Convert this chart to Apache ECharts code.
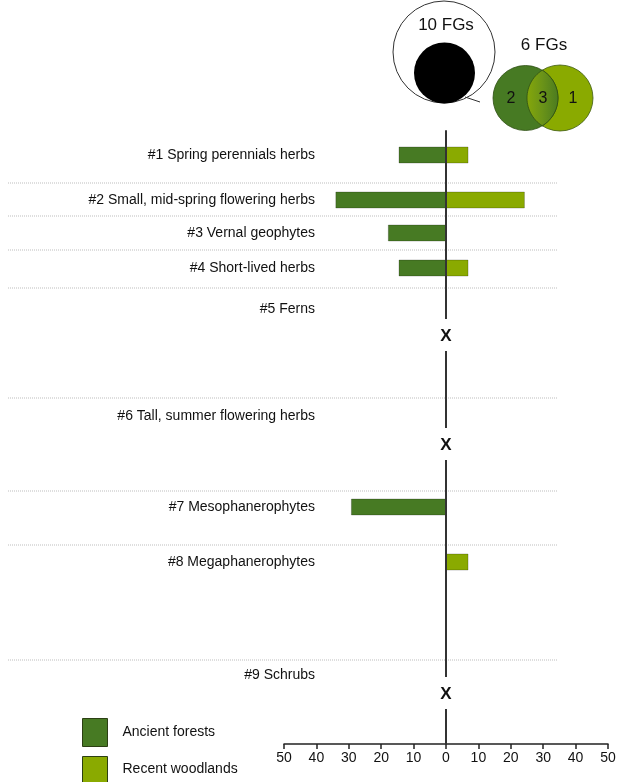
<!DOCTYPE html>
<html>
<head>
<meta charset="utf-8">
<script src="https://cdn.jsdelivr.net/npm/echarts@6/dist/echarts.min.js"></script>
<style>
html,body{margin:0;padding:0;background:#fff;}
#chart{width:620px;height:782px;}
</style>
</head>
<body>
<div id="chart"></div>
<script>
// ---------- DATA ----------
const categories = [
  '#1 Spring perennials herbs',
  '#2 Small, mid-spring flowering herbs',
  '#3 Vernal geophytes',
  '#4 Short-lived herbs',
  '#5 Ferns',
  '#6 Tall, summer flowering herbs',
  '#7 Mesophanerophytes',
  '#8 Megaphanerophytes',
  '#9 Schrubs'
];
const ancientForests   = [14.5, 34, 17.8, 14.5, null, null, 29.2, 0, null];
const recentWoodlands  = [6.8, 24.2, 0, 6.8, null, null, 0, 6.8, null];
const absentGroups     = [false, false, false, false, true, true, false, false, true];
const xTickValues      = [-50, -40, -30, -20, -10, 0, 10, 20, 30, 40, 50];
const seriesNames      = ['Ancient forests', 'Recent woodlands'];
const fgTotal          = '10 FGs';
const fgSubset         = '6 FGs';
const vennCounts       = [2, 3, 1]; // ancient only, shared, recent only

// ---------- LAYOUT (positions along the vertical row axis, not data) ----------
const rowSlot   = [24, 69, 102, 137, 178, 285, 376, 431, 544];
const markSlot  = [null, null, null, null, 204, 313, null, null, 562];
const sepSlot   = [52, 85, 119, 157, 267, 360, 414, 529];

const DARK = '#477a23';
const LIGHT = '#8aaa00';
const FONT = '"Liberation Sans", Arial, sans-serif';

const chart = echarts.init(document.getElementById('chart'));

function barRender(params, api) {
  const v = api.value(0);
  if (!v) return null;
  const y = api.value(1);
  const p0 = api.coord([0, y]);
  const p1 = api.coord([v, y]);
  const h = 16;
  return {
    type: 'rect',
    shape: { x: Math.min(p0[0], p1[0]), y: p0[1] - h / 2, width: Math.abs(p1[0] - p0[0]), height: h },
    style: { fill: api.visual('color'), stroke: 'rgba(0,0,0,0.22)', lineWidth: 1 }
  };
}

// Venn lens (decorative)
const C1 = { x: 525.5, y: 98, r: 32.5 }, C2 = { x: 560, y: 98, r: 33 };
function lensPoints() {
  const d = C2.x - C1.x;
  const a = (d * d + C1.r * C1.r - C2.r * C2.r) / (2 * d);
  const h = Math.sqrt(C1.r * C1.r - a * a);
  const pts = [];
  const t2 = Math.atan2(-h, C1.x + a - C2.x);
  const b2 = Math.atan2(h, C1.x + a - C2.x);
  let s = t2 < 0 ? t2 + 2 * Math.PI : t2;
  for (let k = 0; k <= 30; k++) {
    const ang = s + (b2 - s) * k / 30;
    pts.push([C2.x + C2.r * Math.cos(ang), C2.y + C2.r * Math.sin(ang)]);
  }
  const b1 = Math.atan2(h, a), t1 = Math.atan2(-h, a);
  for (let k = 0; k <= 30; k++) {
    const ang = b1 + (t1 - b1) * k / 30;
    pts.push([C1.x + C1.r * Math.cos(ang), C1.y + C1.r * Math.sin(ang)]);
  }
  return pts;
}

const ancientData = ancientForests.map((v, i) => [v == null ? 0 : -v, rowSlot[i]]);
const recentData = recentWoodlands.map((v, i) => [v == null ? 0 : v, rowSlot[i]]);
const labelData = categories.map((c, i) => [0, rowSlot[i], i]);
const markData = absentGroups.map((a, i) => a ? [0, markSlot[i]] : null).filter(d => d);
const sepData = sepSlot.map(s => [0, s]);

const legendBase = {
  orient: 'vertical', left: 82, padding: 0, itemWidth: 25, icon: 'rect',
  itemStyle: { borderColor: '#2c3f14', borderWidth: 1 },
  textStyle: { fontSize: 14, color: '#111', fontFamily: FONT, padding: [0, 0, 0, 10] },
  selectedMode: false
};

const option = {
  animation: false,
  backgroundColor: '#fff',
  textStyle: { fontFamily: FONT },
  grid: { left: 284, right: 12, top: 131, bottom: 38, containLabel: false },
  xAxis: {
    type: 'value', min: -50, max: 50, interval: 10,
    axisLine: { show: true, onZero: false, lineStyle: { color: '#222', width: 1.5 } },
    axisTick: { show: true, length: 5, lineStyle: { color: '#222', width: 1.5 } },
    axisLabel: { color: '#111', fontSize: 14, margin: 7, fontFamily: FONT, formatter: v => Math.abs(v) },
    splitLine: { show: false }
  },
  yAxis: {
    type: 'value', min: 0, max: 613, inverse: true, z: 3,
    axisLine: { show: true, onZero: true, lineStyle: { color: '#333', width: 2 } },
    axisTick: { show: false }, axisLabel: { show: false }, splitLine: { show: false }
  },
  legend: [
    Object.assign({}, legendBase, { data: [seriesNames[0]], top: 718, itemHeight: 28 }),
    Object.assign({}, legendBase, { data: [seriesNames[1]], top: 756, itemHeight: 26 })
  ],
  series: [
    {
      type: 'custom', name: 'separators', z: 1, silent: true,
      renderItem: (params, api) => {
        const p = api.coord([0, api.value(1)]);
        return { type: 'line', shape: { x1: 8, y1: p[1], x2: 558, y2: p[1] },
          style: { stroke: '#bdbdbd', lineWidth: 1, lineDash: [1, 1] } };
      },
      data: sepData, clip: false
    },
    {
      type: 'custom', name: seriesNames[0], z: 2, color: DARK, itemStyle: { color: DARK },
      renderItem: barRender, data: ancientData, clip: false
    },
    {
      type: 'custom', name: seriesNames[1], z: 2, color: LIGHT, itemStyle: { color: LIGHT },
      renderItem: barRender, data: recentData, clip: false
    },
    {
      type: 'custom', name: 'labels', z: 2, silent: true,
      renderItem: (params, api) => {
        const p = api.coord([0, api.value(1)]);
        return { type: 'text', style: { x: 315, y: p[1], text: categories[api.value(2)],
          align: 'right', verticalAlign: 'middle', fontSize: 14, fill: '#111', fontFamily: FONT } };
      },
      data: labelData, clip: false
    },
    {
      type: 'custom', name: 'absent', z: 5, silent: true,
      renderItem: (params, api) => {
        const p = api.coord([0, api.value(1)]);
        return { type: 'group', children: [
          { type: 'rect', shape: { x: p[0] - 15, y: p[1] - 16, width: 30, height: 32 }, style: { fill: '#fff' } },
          { type: 'text', style: { x: p[0], y: p[1] + 1, text: 'X', align: 'center', verticalAlign: 'middle',
            fontSize: 17, fontWeight: 'bold', fill: '#111', fontFamily: FONT } }
        ] };
      },
      data: markData, clip: false
    }
  ],
  graphic: [
    { type: 'circle', shape: { cx: 444, cy: 52, r: 51 }, style: { fill: '#fff', stroke: '#333', lineWidth: 1 } },
    { type: 'line', shape: { x1: 465, y1: 97, x2: 480, y2: 102 }, style: { stroke: '#333', lineWidth: 1 } },
    { type: 'circle', shape: { cx: 444.5, cy: 73, r: 30.5 }, style: { fill: '#000' } },
    { type: 'text', style: { x: 446, y: 25, text: fgTotal, align: 'center', verticalAlign: 'middle', fontSize: 17, fill: '#111', fontFamily: FONT } },
    { type: 'text', style: { x: 544, y: 45, text: fgSubset, align: 'center', verticalAlign: 'middle', fontSize: 17, fill: '#111', fontFamily: FONT } },
    { type: 'circle', shape: { cx: C2.x, cy: C2.y, r: C2.r }, style: { fill: LIGHT, stroke: '#3d5a12', lineWidth: 0.8 } },
    { type: 'circle', shape: { cx: C1.x, cy: C1.y, r: C1.r }, style: { fill: DARK, stroke: '#2f4f14', lineWidth: 0.8 } },
    { type: 'polygon', shape: { points: lensPoints() },
      style: { fill: new echarts.graphic.LinearGradient(0, 0, 1, 0, [
        { offset: 0, color: '#86a70a' }, { offset: 0.5, color: '#6a9318' }, { offset: 1, color: '#4b7b20' } ]),
        stroke: '#2f4f14', lineWidth: 0.8 } },
    { type: 'text', style: { x: 511, y: 99, text: String(vennCounts[0]), align: 'center', verticalAlign: 'middle', fontSize: 16, fill: '#111', fontFamily: FONT } },
    { type: 'text', style: { x: 543, y: 99, text: String(vennCounts[1]), align: 'center', verticalAlign: 'middle', fontSize: 16, fill: '#111', fontFamily: FONT } },
    { type: 'text', style: { x: 573, y: 99, text: String(vennCounts[2]), align: 'center', verticalAlign: 'middle', fontSize: 16, fill: '#111', fontFamily: FONT } }
  ]
};
chart.setOption(option);
</script>
</body>
</html>
